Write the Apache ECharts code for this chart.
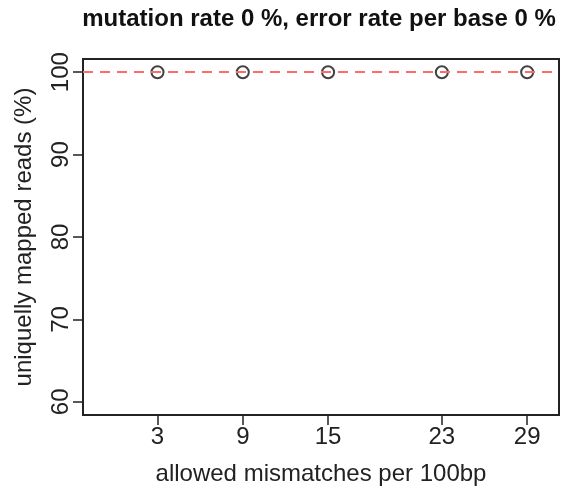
<!DOCTYPE html>
<html>
  <head>
    <meta http-equiv="Content-Type" content="text/html; charset=utf-8">
    <title>mutation rate 0 %</title>
    <style>
      html, body { margin: 0; padding: 0; background: #fff; }
      #chart { width: 563px; height: 490px; }
    </style>
    <script src="https://cdn.jsdelivr.net/npm/echarts@6/dist/echarts.min.js"></script>
  </head>
  <body>
    <div id="chart"></div>
    <script type="text/javascript">
      // allowed mismatches per 100bp
      var mismatches = [3, 9, 15, 23, 29];
      // uniquely mapped reads (%)
      var mappedReads = [100, 100, 100, 100, 100];
      var xTicks = [3, 9, 15, 23, 29];
      var yTicks = [60, 70, 80, 90, 100];
      var refLine = 100;

      var font = 'Liberation Sans, Arial, sans-serif';
      var myChart = echarts.init(document.getElementById('chart'));

      var points = mismatches.map(function (x, i) { return [x, mappedReads[i]]; });

      myChart.setOption({
        animation: false,
        title: {
          text: 'mutation rate 0 %, error rate per base 0 %',
          left: 314,
          textAlign: 'center',
          top: 2,
          textStyle: { fontFamily: font, fontSize: 24, fontWeight: 'bold', color: '#111' }
        },
        grid: {
          left: 83, top: 59, right: 4, bottom: 75,
          outerBoundsMode: 'none',
          containLabel: false,
          show: true, borderColor: '#222', borderWidth: 2, backgroundColor: '#fff'
        },
        xAxis: {
          type: 'value',
          min: -2.24, max: 31.24,
          name: 'allowed mismatches per 100bp',
          nameLocation: 'middle',
          nameGap: 47,
          nameTextStyle: { fontFamily: font, fontSize: 24, color: '#222' },
          axisLine: { show: false, onZero: false },
          splitLine: { show: false },
          axisTick: { show: true, length: 10, lineStyle: { color: '#222', width: 1.5 }, customValues: xTicks },
          axisLabel: { fontFamily: font, fontSize: 24, color: '#222', margin: 10, customValues: xTicks }
        },
        yAxis: {
          type: 'value',
          min: 58.4, max: 101.6,
          name: 'uniquelly mapped reads (%)',
          nameLocation: 'middle',
          nameGap: 47,
          nameRotate: 90,
          nameTextStyle: { fontFamily: font, fontSize: 24, color: '#222' },
          axisLine: { show: false, onZero: false },
          splitLine: { show: false },
          axisTick: { show: true, length: 10, lineStyle: { color: '#222', width: 1.5 }, customValues: yTicks },
          axisLabel: { fontFamily: font, fontSize: 24, color: '#222', margin: 10, rotate: 90, customValues: yTicks }
        },
        series: [{
          type: 'scatter',
          data: points,
          symbol: 'circle',
          symbolSize: 12,
          itemStyle: { color: 'rgba(0,0,0,0)', borderColor: '#111', borderWidth: 2 },
          markLine: {
            silent: true,
            symbol: ['none', 'none'],
            label: { show: false },
            lineStyle: { color: '#ff6b6b', type: [10, 7], width: 2 },
            data: [{ yAxis: refLine }]
          },
          z: 3
        }]
      });
    </script>
  </body>
</html>
